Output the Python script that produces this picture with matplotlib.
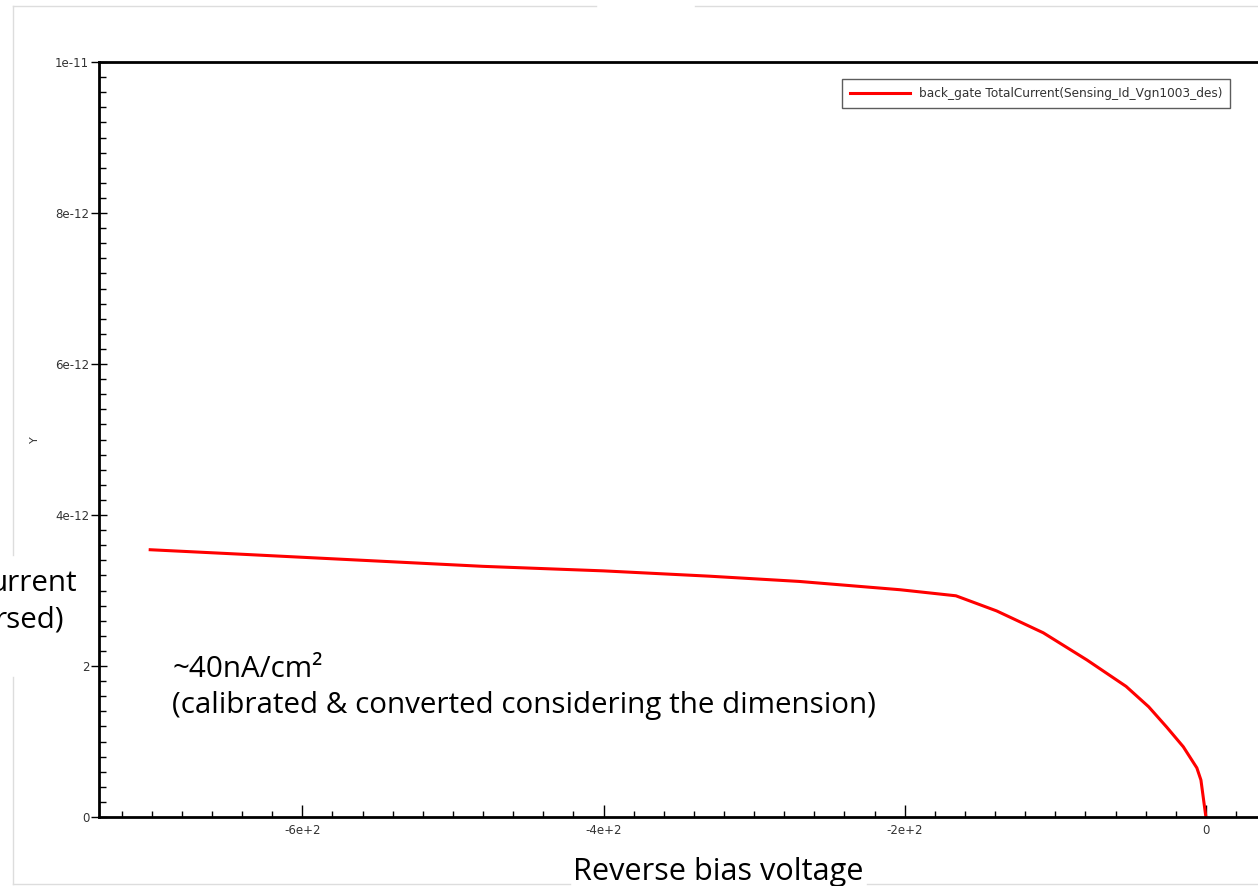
import matplotlib
matplotlib.use('Agg')
import matplotlib.pyplot as plt
from matplotlib.ticker import FixedLocator, FixedFormatter, MultipleLocator
from matplotlib.lines import Line2D
import numpy as np

# reverse bias sweep
voltage = [-701, -640, -560, -480, -400, -330, -270, -203, -166, -139,
           -108, -79, -53, -38, -26, -15, -6, -3.3, 0]
current = [3.54, 3.48, 3.40, 3.32, 3.26, 3.19, 3.12, 3.01, 2.93, 2.73,
           2.44, 2.08, 1.73, 1.46, 1.19, 0.93, 0.65, 0.49, 0.0]  # x 1e-12 A
current = [c * 1e-12 for c in current]

xticks = [-600, -400, -200, 0]
xlabels = ['-6e+2', '-4e+2', '-2e+2', '0']
yticks = [0, 2e-12, 4e-12, 6e-12, 8e-12, 1e-11]
ylabels = ['0', '2', '4e-12', '6e-12', '8e-12', '1e-11']
legend_label = 'back_gate TotalCurrent(Sensing_Id_Vgn1003_des)'

W, H = 1258, 886
fig = plt.figure(figsize=(W / 100, H / 100), dpi=100)

# axes box (right edge runs off the slide)
ax = fig.add_axes([99 / W, 1 - 817 / H, 1 - 99 / W, (817 - 62) / H])
ax.plot(voltage, current, color='red', lw=2.2, label=legend_label)
ax.set_xlim(-735, 34.6)
ax.set_ylim(0, 1e-11)

ax.xaxis.set_major_locator(FixedLocator(xticks))
ax.xaxis.set_major_formatter(FixedFormatter(xlabels))
ax.xaxis.set_minor_locator(MultipleLocator(20))
ax.yaxis.set_major_locator(FixedLocator(yticks))
ax.yaxis.set_major_formatter(FixedFormatter(ylabels))
ax.yaxis.set_minor_locator(MultipleLocator(2e-13))

ax.tick_params(axis='x', which='major', direction='in', length=9, width=1,
               labelsize=8.5, labelcolor='#333333', pad=5)
ax.tick_params(axis='x', which='minor', direction='in', length=4, width=1)
ax.tick_params(axis='y', which='major', direction='inout', length=12, width=1,
               labelsize=8.5, labelcolor='#333333', pad=1)
ax.tick_params(axis='y', which='minor', direction='in', length=5, width=1)

for s in ['left', 'bottom', 'top']:
    ax.spines[s].set_linewidth(2)
ax.spines['right'].set_visible(False)

fig.text(35 / W, 1 - 440 / H, 'Y', fontsize=8, color='#333333',
         rotation=90, ha='center', va='center')

leg = ax.legend(loc='upper left', bbox_to_anchor=(836 / W, 1 - 73 / H),
                bbox_transform=fig.transFigure, fontsize=8.7, frameon=True,
                fancybox=False, handlelength=5, borderpad=0.65,
                handletextpad=0.7)
leg.get_frame().set_edgecolor('#333333')
leg.get_frame().set_linewidth(1)
for t in leg.get_texts():
    t.set_color('#333333')

# faint slide frame
def pline(x0, y0, x1, y1):
    fig.add_artist(Line2D([x0 / W, x1 / W], [1 - y0 / H, 1 - y1 / H],
                          color='#dddddd', lw=1))

pline(13, 6, 596, 6)
pline(695, 6, W, 6)
pline(13, 6, 13, 555)
pline(13, 677, 13, 884)
pline(13, 884, 570, 884)
pline(867, 884, W, 884)

# slide text on top of the chart
sfont = 'Open Sans'
fs = 21.3
fig.text(77 / W, 1 - 591 / H, 'urrent', fontsize=fs, family=sfont, ha='right')
fig.text(64 / W, 1 - 628 / H, 'rsed)', fontsize=fs, family=sfont, ha='right')
fig.text(172 / W, 1 - 677 / H, '~40nA/cm²', fontsize=fs, family=sfont)
fig.text(172 / W, 1 - 713 / H, '(calibrated & converted considering the dimension)',
         fontsize=fs, family=sfont)
fig.text(573 / W, 1 - 880 / H, 'Reverse bias voltage', fontsize=fs + 0.8,
         family=sfont)

fig.savefig('out.png', dpi=100)
